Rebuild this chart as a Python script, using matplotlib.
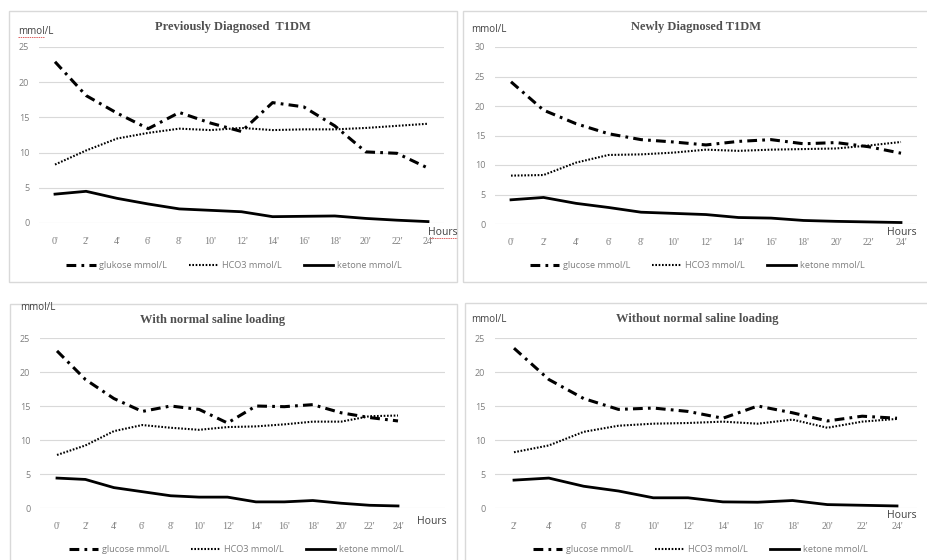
import matplotlib
matplotlib.use("Agg")
import matplotlib.pyplot as plt
from matplotlib.patches import Rectangle
from matplotlib.lines import Line2D

# ---------------- data ----------------
hours_a = ["0'", "2'", "4'", "6'", "8'", "10'", "12'", "14'", "16'", "18'", "20'", "22'", "24'"]
hours_b = ["2'", "4'", "6'", "8'", "10'", "12'", "14'", "16'", "18'", "20'", "22'", "24'"]

titles = ["Previously Diagnosed  T1DM", "Newly Diagnosed T1DM",
          "With normal saline loading", "Without normal saline loading"]
glucose_labels = ["glukose mmol/L", "glucose mmol/L", "glucose mmol/L", "glucose mmol/L"]
hco3_label = "HCO3 mmol/L"
ketone_label = "ketone mmol/L"

p1_glucose = [22.9, 18.1, 15.6, 13.4, 15.7, 14.2, 13.0, 17.1, 16.5, 13.8, 10.1, 9.9, 7.8]
p1_hco3 = [8.3, 10.3, 12.0, 12.8, 13.4, 13.2, 13.5, 13.2, 13.3, 13.3, 13.5, 13.8, 14.1]
p1_ketone = [4.1, 4.5, 3.5, 2.7, 2.0, 1.8, 1.6, 0.9, 0.95, 1.0, 0.65, 0.4, 0.2]

p2_glucose = [24.1, 19.3, 17.0, 15.3, 14.3, 13.9, 13.4, 14.0, 14.3, 13.6, 13.8, 13.1, 12.0]
p2_hco3 = [8.2, 8.3, 10.4, 11.7, 11.8, 12.1, 12.6, 12.4, 12.6, 12.7, 12.8, 13.3, 13.9]
p2_ketone = [4.1, 4.5, 3.5, 2.8, 2.0, 1.8, 1.6, 1.1, 1.0, 0.6, 0.45, 0.35, 0.25]

p3_glucose = [23.1, 18.9, 16.1, 14.2, 15.0, 14.5, 12.5, 15.0, 14.9, 15.2, 14.0, 13.3, 12.8]
p3_hco3 = [7.8, 9.2, 11.3, 12.2, 11.8, 11.5, 11.9, 12.0, 12.3, 12.7, 12.7, 13.5, 13.6]
p3_ketone = [4.4, 4.2, 3.0, 2.4, 1.8, 1.6, 1.6, 0.9, 0.9, 1.1, 0.7, 0.4, 0.3]

p4_glucose = [23.5, 18.9, 16.1, 14.5, 14.7, 14.2, 13.2, 15.0, 14.0, 12.8, 13.5, 13.2]
p4_hco3 = [8.2, 9.2, 11.2, 12.1, 12.4, 12.5, 12.7, 12.4, 13.0, 11.8, 12.7, 13.1]
p4_ketone = [4.1, 4.4, 3.2, 2.5, 1.5, 1.5, 0.9, 0.85, 1.1, 0.5, 0.4, 0.3]

y_ticks_a = [0, 5, 10, 15, 20, 25]
y_ticks_b = [0, 5, 10, 15, 20, 25, 30]

# ---------------- layout ----------------
W, H = 928, 560
fig = plt.figure(figsize=(W / 100, H / 100), dpi=100)
fig.patch.set_facecolor("white")

def fx(p):
    return p / W

def fy(p):
    return 1 - p / H

GRAY_TXT = "#7f7f7f"
TITLE_C = "#505050"
GRID_C = "#d9d9d9"

panels = [
    dict(box=(9, 11, 457, 282), gl=(39, 444), c0=55, c1=428, y0=223, yt=47, ymax=25,
         cats=hours_a, g=p1_glucose, h=p1_hco3, k=p1_ketone, yt_list=y_ticks_a,
         title=(233, 27), unit=(18, 31), hours=(428, 232), leg=(234, 266), redline=True),
    dict(box=(463, 11, 940, 282), gl=(495, 917), c0=511, c1=901, y0=224, yt=47, ymax=30,
         cats=hours_a, g=p2_glucose, h=p2_hco3, k=p2_ketone, yt_list=y_ticks_b,
         title=(696, 27), unit=(471, 30), hours=(887, 232), leg=(697, 266), redline=False),
    dict(box=(10, 304, 457, 580), gl=(40, 445), c0=57, c1=398, y0=508, yt=338, ymax=25,
         cats=hours_a, g=p3_glucose, h=p3_hco3, k=p3_ketone, yt_list=y_ticks_a,
         title=(213, 320), unit=(20, 308), hours=(417, 522), leg=(236, 550), redline=False),
    dict(box=(465, 303, 940, 580), gl=(495, 917), c0=514, c1=897, y0=508, yt=338, ymax=25,
         cats=hours_b, g=p4_glucose, h=p4_hco3, k=p4_ketone, yt_list=y_ticks_a,
         title=(697, 319), unit=(471, 319), hours=(887, 515), leg=(700, 550), redline=False),
]

for i, p in enumerate(panels):
    l, t, r, b = p["box"]
    fig.patches.append(Rectangle((fx(l), fy(b)), fx(r - l), (b - t) / H,
                                 transform=fig.transFigure, fill=False,
                                 edgecolor="#d9d9d9", lw=1.0))
    gl_l, gl_r = p["gl"]
    ax = fig.add_axes([fx(gl_l), fy(p["y0"]), fx(gl_r - gl_l), (p["y0"] - p["yt"]) / H])
    n = len(p["cats"])
    step = (p["c1"] - p["c0"]) / (n - 1)
    ax.set_xlim((gl_l - p["c0"]) / step, (gl_r - p["c0"]) / step)
    ax.set_ylim(0, p["ymax"])
    xs = list(range(n))
    ax.plot(xs, p["g"], color="black", lw=2.2, dashes=(3.2, 1.7, 0.9, 1.7),
            solid_capstyle="butt", dash_capstyle="butt")
    ax.plot(xs, p["h"], color="black", lw=1.5, dashes=(0.8, 0.8))
    ax.plot(xs, p["k"], color="black", lw=2.0)
    ax.set_yticks(p["yt_list"])
    ax.set_xticks(xs)
    ax.set_xticklabels(p["cats"], family="Liberation Serif", fontsize=7.2, color=GRAY_TXT)
    for lab in ax.get_yticklabels():
        lab.set_fontsize(6.5)
        lab.set_color(GRAY_TXT)
        lab.set_family("Open Sans")
    ax.tick_params(axis="both", length=0)
    ax.tick_params(axis="x", pad=10)
    ax.tick_params(axis="y", pad=7)
    for s in ax.spines.values():
        s.set_visible(False)
    ax.grid(axis="y", color=GRID_C, lw=0.8)
    ax.set_axisbelow(True)
    ax.patch.set_alpha(0)

    fig.text(fx(p["title"][0]), fy(p["title"][1]), titles[i], ha="center", va="center",
             family="Liberation Serif", fontweight="bold", fontsize=9, color=TITLE_C)
    fig.text(fx(p["unit"][0]), fy(p["unit"][1]), "mmol/L", ha="left", va="center",
             family="Open Sans", fontsize=7, color="#404040")
    fig.text(fx(p["hours"][0]), fy(p["hours"][1]), "Hours", ha="left", va="center",
             family="Open Sans", fontsize=7.5, color="#404040")

    handles = [
        Line2D([], [], color="black", lw=2.2, dashes=(3.2, 1.7, 0.9, 1.7)),
        Line2D([], [], color="black", lw=1.5, dashes=(0.8, 0.8)),
        Line2D([], [], color="black", lw=2.0),
    ]
    leg = fig.legend(handles, [glucose_labels[i], hco3_label, ketone_label],
                     loc="center", bbox_to_anchor=(fx(p["leg"][0]), fy(p["leg"][1])),
                     ncol=3, frameon=False, handlelength=3.2,
                     handletextpad=0.4, columnspacing=2.4,
                     prop={"family": "Open Sans", "size": 6.6})
    for txt in leg.get_texts():
        txt.set_color(GRAY_TXT)

    if p["redline"]:
        fig.lines.append(Line2D([fx(18), fx(44)], [fy(37), fy(37)], transform=fig.transFigure,
                                color="#e06060", lw=0.7, ls=(0, (1.5, 0.8))))
        fig.lines.append(Line2D([fx(430), fx(457)], [fy(238), fy(238)], transform=fig.transFigure,
                                color="#e06060", lw=0.7, ls=(0, (1.5, 0.8))))

fig.savefig("out.png", dpi=100, facecolor="white")
